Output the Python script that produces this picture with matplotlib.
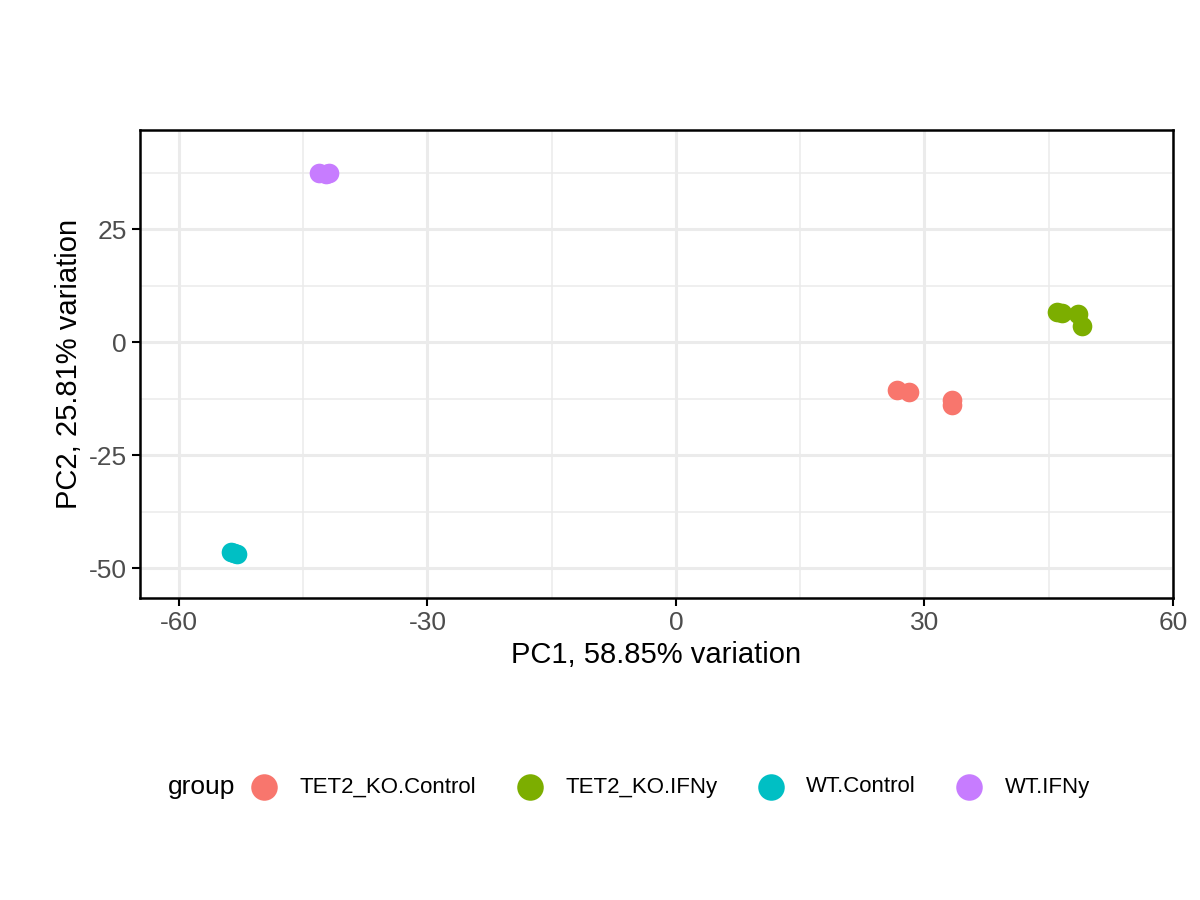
import matplotlib.pyplot as plt

plt.rcParams['font.family'] = ['Liberation Sans', 'DejaVu Sans']
plt.rcParams['axes.unicode_minus'] = False

groups = ["TET2_KO.Control", "TET2_KO.IFNy", "WT.Control", "WT.IFNy"]
colors = ["#F8766D", "#7CAE00", "#00BFC4", "#C77CFF"]
pc1 = {
    "TET2_KO.Control": [26.7, 28.1, 33.3, 33.3],
    "TET2_KO.IFNy": [46.0, 46.6, 48.5, 49.0],
    "WT.Control": [-53.7, -53.0, -53.3],
    "WT.IFNy": [-43.1, -41.9, -42.2],
}
pc2 = {
    "TET2_KO.Control": [-10.6, -11.0, -12.8, -13.9],
    "TET2_KO.IFNy": [6.6, 6.4, 6.2, 3.5],
    "WT.Control": [-46.4, -46.8, -46.6],
    "WT.IFNy": [37.3, 37.3, 37.1],
}

fig = plt.figure(figsize=(12, 9), dpi=100)
ax = fig.add_axes([140/1200, 1-598/900, (1173-140)/1200, (598-130)/900])
for g, c in zip(groups, colors):
    ax.scatter(pc1[g], pc2[g], s=200, color=c, label=g, zorder=3, linewidths=0)

ax.set_xlim(-64.7, 60)
ax.set_ylim(-56.6, 46.9)
ax.set_xticks([-60, -30, 0, 30, 60])
ax.set_yticks([-50, -25, 0, 25])
ax.set_xticks([-45, -15, 15, 45], minor=True)
ax.set_yticks([-37.5, -12.5, 12.5, 37.5], minor=True)
ax.grid(True, which="major", color="#EBEBEB", lw=2.2)
ax.grid(True, which="minor", color="#EBEBEB", lw=1.1)
ax.set_axisbelow(True)
for s in ax.spines.values():
    s.set_linewidth(1.8)
ax.tick_params(labelsize=19, labelcolor="#4D4D4D", length=6, width=1.5, which="major")
ax.tick_params(which="minor", length=0)
ax.set_xlabel("PC1, 58.85% variation", fontsize=21)
ax.set_ylabel("PC2, 25.81% variation", fontsize=21)

fig.legend(loc="center", bbox_to_anchor=(0.555, 1-787/900), ncol=4, frameon=False,
           fontsize=16, markerscale=1.35,
           handletextpad=0.6, columnspacing=1.4)
fig.text(168/1200, 1-787/900, "group", fontsize=19, va="center")
fig.savefig("out.png", dpi=100)
